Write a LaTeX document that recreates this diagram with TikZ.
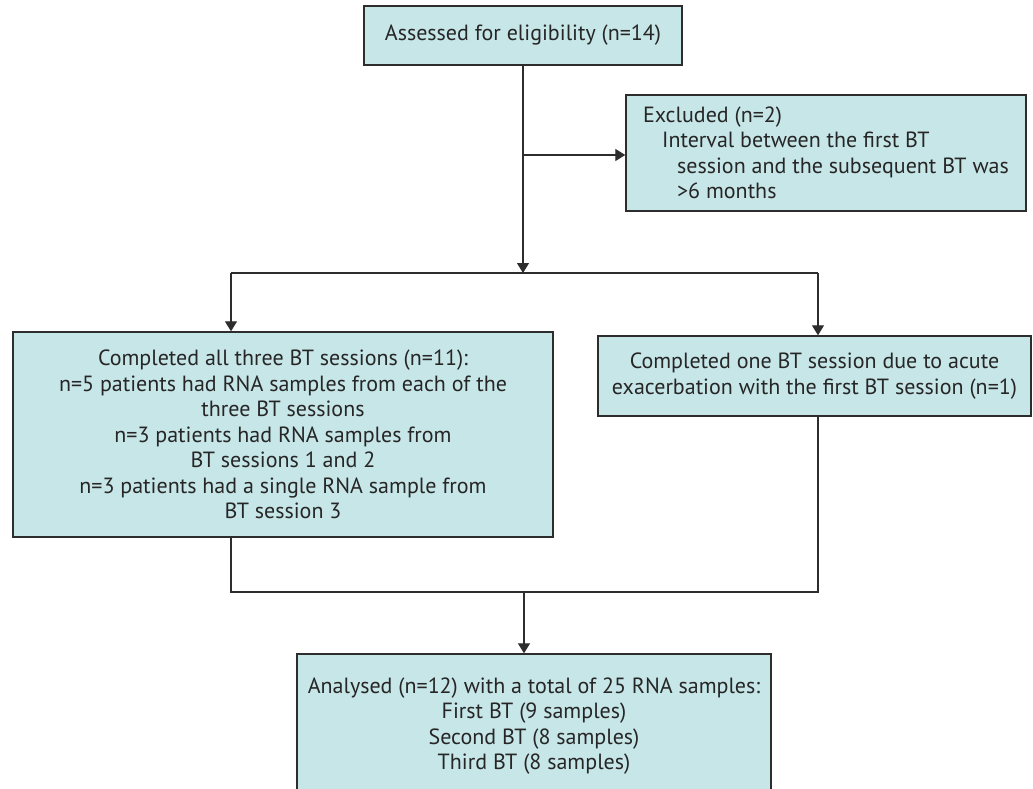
\documentclass[tikz,border=0pt]{standalone}
\usepackage{fontspec}
\setmainfont{PT Sans}
\usetikzlibrary{arrows.meta}
\definecolor{boxfill}{RGB}{199,230,232}
\definecolor{boxline}{RGB}{45,45,45}
\definecolor{txt}{RGB}{38,38,38}
\begin{document}
\begin{tikzpicture}[x=1pt,y=-1pt,
  box/.style={draw=boxline, fill=boxfill, line width=1.4pt, text=txt,
    font=\fontsize{22}{25.5}\selectfont, align=center, inner sep=0pt},
  conn/.style={draw=boxline, line width=1.2pt},
  arr/.style={conn, -{Triangle[length=10pt,width=12pt]}}]
\useasboundingbox[fill=white] (0,0) rectangle (1033,789);
\clip (0,0) rectangle (1033,789);
\node[box, minimum width=318pt, minimum height=59pt] (assess) at (523,35.5)
  {Assessed for eligibility (n=14)};
\node[box, minimum width=400pt, minimum height=116pt, align=left] (excl) at (826,153)
  {Excluded (n=2)\\
   \hspace*{19pt}Interval between the first BT\\
   \hspace*{34pt}session and the subsequent BT was\\
   \hspace*{34pt}>6 months};
\node[box, minimum width=540pt, minimum height=205pt] (all) at (283,434.5)
  {Completed all three BT sessions (n=11):\\
   n=5 patients had RNA samples from each of the\\
   three BT sessions\\
   n=3 patients had RNA samples from\\
   BT sessions 1 and 2\\
   n=3 patients had a single RNA sample from\\
   BT session 3};
\node[box, minimum width=433pt, minimum height=80pt] (one) at (814.5,376)
  {Completed one BT session due to acute\\
   exacerbation with the first BT session (n=1)};
\node[box, minimum width=474pt, minimum height=144pt] (ana) at (534,726)
  {Analysed (n=12) with a total of 25 RNA samples:\\
   First BT (9 samples)\\
   Second BT (8 samples)\\
   Third BT (8 samples)};
\coordinate (j1) at (523,273);
\coordinate (jb) at (523,155);
\coordinate (jl) at (231,273);
\coordinate (jr) at (818,273);
\coordinate (j2) at (524,592);
\draw[arr] (assess.south) -- (j1);
\draw[arr] (jb) -- (jb -| excl.west);
\draw[conn] (jl) -- (jr);
\draw[arr] (jl) -- (jl |- all.north);
\draw[arr] (jr) -- (jr |- one.north);
\draw[conn] (jl |- all.south) -- (jl |- j2) -- (jr |- j2) -- (jr |- one.south);
\draw[arr] (j2) -- (j2 |- ana.north);
\end{tikzpicture}
\end{document}
